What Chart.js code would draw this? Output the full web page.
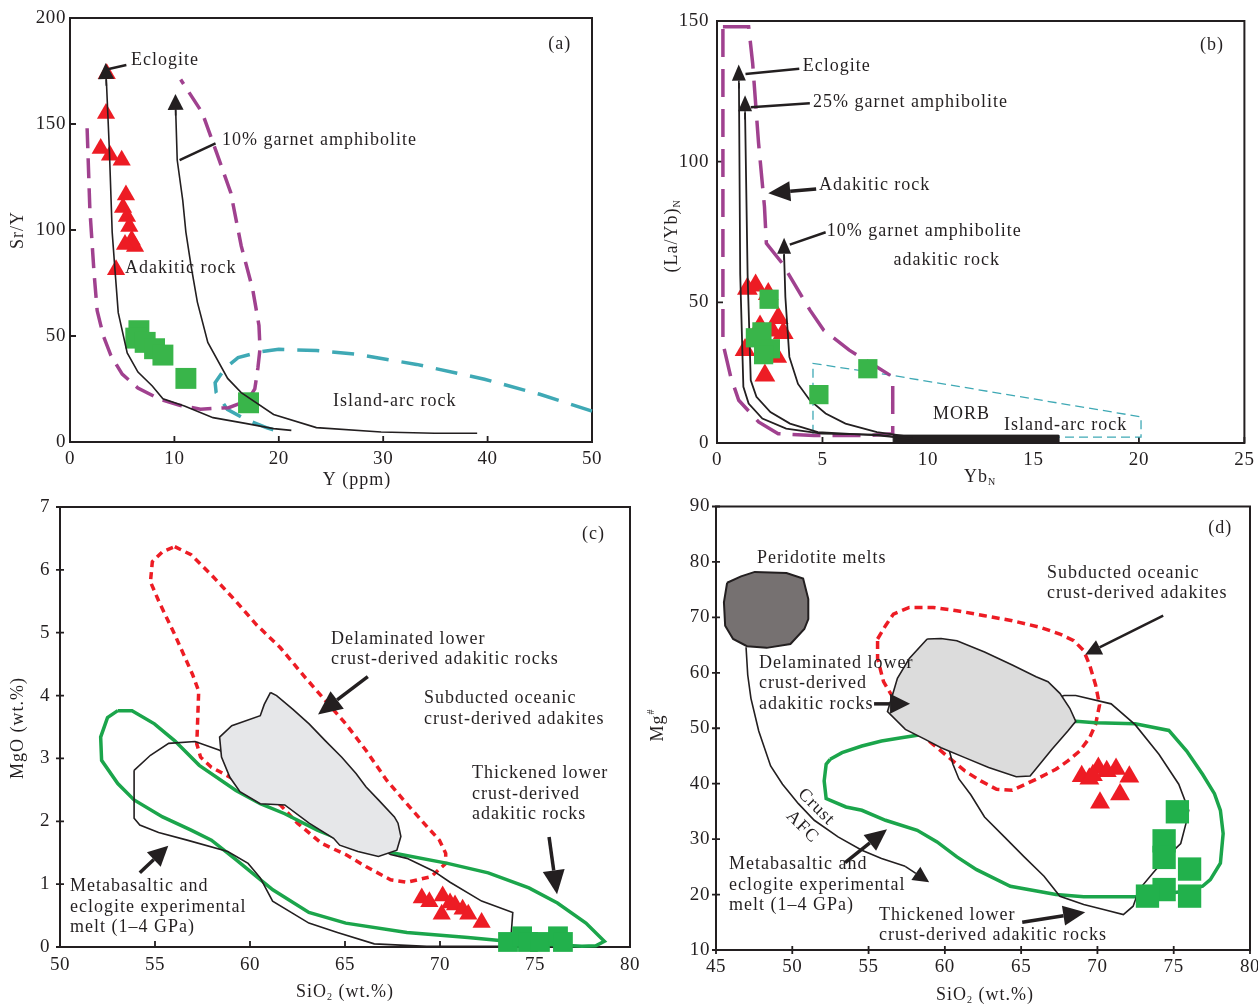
<!DOCTYPE html>
<html>
<head>
<meta charset="utf-8">
<script src="https://cdn.jsdelivr.net/npm/chart.js@4.4.1/dist/chart.umd.min.js"></script>
<style>
  body { margin: 0; background: #fff; width: 1258px; height: 1005px; position: relative; overflow: hidden; }
  canvas { position: absolute; }
</style>
</head>
<body>
<canvas id="pa" width="625" height="490" style="left:0;top:0"></canvas>
<canvas id="pb" width="618" height="490" style="left:640px;top:0"></canvas>
<canvas id="pc" width="665" height="515" style="left:0;top:490px"></canvas>
<canvas id="pd" width="643" height="515" style="left:640px;top:490px"></canvas>
<script>
// ---- (a) Sr/Y vs Y ----
const aXTicks = [0, 10, 20, 30, 40, 50];
const aYTicks = [0, 50, 100, 150, 200];
const aTri = [[3.52,173.7],[3.45,154.9],[2.94,138.4],[3.83,135.3],[4.95,132.9],[5.36,116.5],[5.08,110.6],[5.46,106.4],[5.68,101.6],[5.91,95.3],[6.23,92.2],[5.27,93.2],[4.41,81.2]];
const aSq = [[6.6,52.5],[6.3,49],[7.2,47],[8.1,44],[8.9,41],[11.1,30],[17.1,18.5]];
const aEclogite = [[3.48,171],[3.77,138],[4.04,99],[4.28,83],[4.62,61],[5.48,42],[6.51,33],[7.88,26.4],[8.9,20.4],[10.96,17],[13.7,11.5],[16.8,8.8],[19.5,6.3],[21.2,5.5]];
const aGarnet = [[10.12,157],[10.27,133],[10.8,114],[11.1,99],[11.6,83],[12.2,66],[13.2,47],[15.1,30],[16.4,23.3],[19.5,13],[23.6,6.8],[29.8,4.7],[34.9,4.1],[39,4.1]];
const aAdakitic = [[1.64,148],[1.9,110],[2.3,80],[2.6,62],[3.2,50],[3.9,41],[5.0,32],[6.5,25.5],[8.6,20.2],[10.5,17.3],[12.5,15.5],[15.2,16.2],[17.0,19.5],[17.7,25],[18.0,35],[18.2,44],[18.1,55],[17.5,72],[16.4,92.5],[15.4,117.6],[14.04,136.5],[12.67,155.3],[10.6,171]];
const aIslandArc = [[50,14.6],[45,22.5],[39.7,29.6],[33.2,36.6],[27.4,41.4],[23.6,43.2],[20,43.7],[18.15,42.5],[16.1,39.8],[14.9,35],[13.9,28],[14,23.3],[15.07,15.4],[16.8,10.7],[18.8,6.8],[20.4,4.4]];

// ---- (b) (La/Yb)N vs YbN ----
const bXTicks = [0, 5, 10, 15, 20, 25];
const bYTicks = [0, 50, 100, 150];
const bTri = [[1.44,54.8],[1.83,56],[2.43,53],[2.9,44.4],[3.14,39.1],[2.04,41.4],[1.33,33.1],[2.83,30.7],[2.27,24],[2.6,40]];
const bSq = [[2.47,51.1],[2.13,39.5],[1.82,37.4],[2.53,33.5],[2.21,31.4],[4.83,17.2],[7.15,26.4]];
const bEclogite = [[1.04,128],[1.1,60],[1.25,20],[1.5,14],[2.15,8.7],[3.28,5.1],[4.96,3.3],[7.58,3.0],[9.27,1.5]];
const b25Garnet = [[1.33,117.3],[1.45,60],[1.6,22.3],[1.87,16.4],[2.53,11],[3.46,6.9],[4.78,3.9],[7.58,2.7],[9.27,1.5]];
const b10Garnet = [[3.18,67],[3.24,52],[3.43,30.6],[3.84,21],[4.4,15.2],[5.15,10.5],[6.09,6.9],[7.58,3.9],[9.27,2.1]];
const bAdakitic = [[0.28,148],[1.5,148],[1.69,135],[1.97,106.6],[2.25,84],[2.34,71],[3.09,63.9],[4.4,47.3],[5.06,40.1],[6.27,33],[7.58,27],[8.33,23.5],[8.33,3.3],[7.2,2.7],[4.6,2.7],[2.9,3.3],[1.97,7.5],[1.03,15.2],[0.65,23.5],[0.28,35.4],[0.28,148]];
const bIslandArc = [[4.55,3.3],[4.55,28.3],[8.33,24],[20.1,9.3],[20.1,2.1],[16.2,2.1]];
const bMORB = [[8.35,0],[8.35,2.8],[16.2,2.8],[16.2,0],[8.35,0]];

// ---- (c) MgO vs SiO2 ----
const cXTicks = [50, 55, 60, 65, 70, 75, 80];
const cYTicks = [0, 1, 2, 3, 4, 5, 6, 7];
const cTri = [[69.04,0.78],[69.44,0.72],[70.14,0.81],[70.53,0.7],[70.79,0.67],[71.19,0.6],[71.49,0.52],[72.19,0.39],[70.09,0.52]];
const cSq = [[73.58,0.08],[74.32,0.17],[74.63,0.08],[75.26,0.08],[76.21,0.17],[76.47,0.08]];
const cSubducted = [[56.04,6.37],[56.9,6.24],[57.97,5.92],[59.26,5.5],[60.33,5.13],[61.6,4.76],[62.9,4.29],[63.97,3.92],[65.04,3.55],[66.1,3.13],[67.2,2.65],[68.25,2.28],[69.33,1.91],[69.97,1.7],[70.3,1.49],[70.3,1.33],[69.54,1.12],[68.26,1.03],[67.4,1.07],[66.1,1.28],[65.04,1.47],[63.76,1.65],[62.5,1.97],[61.6,2.26],[60.5,2.39],[59.26,2.65],[57.97,2.86],[57.4,3.02],[57.2,3.23],[57.3,4.07],[56.97,4.34],[56.04,4.97],[55.2,5.5],[54.76,5.81],[54.86,6.13],[55.4,6.29],[56.04,6.37]];
const cMetabasalt = [[53.04,3.76],[53.79,3.76],[54.97,3.55],[56.04,3.28],[57.33,2.89],[59.26,2.49],[60.54,2.28],[61.83,2.12],[63.54,1.86],[64.83,1.7],[67.61,1.49],[70.4,1.33],[72.54,1.18],[74.68,0.94],[76.18,0.7],[77.68,0.38],[78.65,0.09],[78.2,0.02],[77.47,0.01],[74.68,0.06],[71.47,0.15],[68.26,0.23],[65.04,0.38],[63.1,0.55],[61.2,0.91],[59.26,1.39],[57.97,1.7],[56.9,1.86],[55.4,2.07],[53.9,2.34],[53.04,2.6],[52.19,2.97],[52.14,3.34],[52.5,3.65],[53.04,3.76]];
const cThickened = [[53.9,2.81],[53.9,2.05],[54.2,1.94],[55.19,1.82],[56.69,1.7],[58.83,1.52],[59.9,1.33],[60.54,1.1],[61.19,0.73],[63.1,0.38],[64.6,0.23],[66.54,0.05],[69.3,0.01],[73.7,0.01],[73.83,0.55],[72.19,0.73],[70.53,1.03],[69.65,1.21],[68.26,1.41],[67.4,1.47],[65.5,1.8],[63.5,2.2],[61.5,2.5],[59.5,2.9],[58.4,3.13],[57.11,3.27],[55.72,3.24],[54.76,3.05],[53.9,2.81]];
const cDelaminated = [[61.08,4.05],[61.4,4.0],[62.26,3.78],[63.11,3.55],[63.97,3.28],[64.83,3.02],[65.58,2.76],[66.1,2.55],[66.76,2.34],[67.6,2.07],[67.79,1.97],[67.94,1.76],[67.73,1.54],[66.76,1.44],[65.68,1.52],[64.72,1.62],[64.4,1.73],[63.11,1.97],[61.83,2.26],[60.54,2.28],[59.47,2.47],[58.94,2.7],[58.5,3.02],[58.4,3.34],[59.04,3.52],[60.54,3.68],[60.75,3.86],[61.08,4.05]];

// ---- (d) Mg# vs SiO2 ----
const dXTicks = [45, 50, 55, 60, 65, 70, 75, 80];
const dYTicks = [10, 20, 30, 40, 50, 60, 70, 80, 90];
const dTri = [[68.97,41.36],[69.47,40.87],[70.06,42.84],[70.61,42.25],[71.22,42.66],[72.09,41.23],[71.48,38.06],[70.17,36.58],[69.7,41.5]];
const dSq = [[75.24,34.93],[74.37,29.69],[74.37,26.7],[76.04,24.6],[74.37,20.9],[73.28,19.72],[76.04,19.72]];
const dPeridotite = [[45.73,76.25],[46.64,77.4],[47.54,78.2],[49.62,78.0],[50.71,77],[51.05,73.3],[51.05,69.7],[50.79,67.9],[49.88,65.2],[48.32,64.5],[47.03,64.8],[46.12,66.1],[45.6,68.5],[45.52,72.7],[45.73,76.25]];
const dAFC = [[46.97,64.6],[47.08,59.6],[47.29,55.4],[47.8,49.5],[48.58,43.2],[49.36,39.9],[50.4,36.4],[51.44,33.4],[53.0,30.4],[54.56,28.0],[55.85,26.5],[57.4,25.1]];
const dSubducted = [[55.59,66.1],[56.11,68.5],[56.63,70.6],[57.67,71.8],[59.23,71.8],[60.79,71.2],[62.6,70.3],[64.42,69.4],[66.24,68.2],[67.54,67.0],[68.45,65.8],[69.1,64.0],[69.49,61.4],[69.88,57.8],[70.14,54.2],[69.88,50.7],[69.49,48.3],[68.84,45.9],[68.06,44.1],[67.28,42.6],[65.98,40.8],[64.42,38.8],[63.39,39.0],[62.35,40.5],[61.31,42.3],[60.27,44.7],[59.23,47.1],[58.19,49.5],[57.41,51.8],[56.63,55.4],[55.98,58.4],[55.59,62.6],[55.59,66.1]];
const dDelaminated = [[58.84,66.1],[59.75,66.2],[60.79,65.8],[62.6,63.75],[64.42,61.4],[65.98,59.3],[66.76,58.4],[67.54,56.3],[68.19,53.6],[68.58,51.25],[68.06,49.5],[67.02,46.2],[65.59,41.4],[64.68,41.25],[62.87,42.9],[61.31,44.7],[59.75,46.5],[58.71,48.0],[57.41,49.8],[56.24,53.0],[56.63,56.6],[56.89,59.0],[57.67,62.6],[58.84,66.1]];
const dThickened = [[67.8,55.9],[68.58,55.9],[70.9,54.4],[72.47,50.65],[74.03,45.3],[75.33,39.9],[75.98,35.2],[75.8,32.8],[75.46,29.2],[74.55,26.8],[73.64,23.9],[72.73,20.9],[72.34,17.9],[71.7,16.4],[70.4,17.3],[69.1,18.2],[67.54,19.7],[66.5,23.3],[65.2,26.8],[63.9,30.4],[62.6,34.0],[61.7,38.0],[60.92,40.85],[60.53,43.5],[60.27,46.2],[67.8,55.9]];
const dMetabasalt = [[52.48,44.4],[53.26,45.6],[54.56,46.8],[55.85,47.7],[57.15,48.3],[58.19,48.75],[68.58,51.25],[69.88,51.0],[72.47,50.8],[74.68,49.6],[75.85,45.9],[76.89,41.7],[77.67,38.2],[78.06,35.2],[78.24,31.0],[78.06,25.65],[77.4,22.7],[76.89,21.5],[75.5,20.5],[72.47,19.6],[69.1,19.6],[67.28,20.0],[64.29,21.5],[62.08,24.5],[60.79,26.8],[59.49,29.5],[58.19,31.6],[56.11,33.4],[54.56,35.2],[53.52,35.8],[52.22,37.3],[52.09,40.5],[52.22,43.5],[52.48,44.4]];

const FONT = '"Liberation Serif", "Times New Roman", serif';
const INK = '#231F20';
const RED = '#ED1C24';
const GREEN = '#39B54A';
const GREEN2 = '#22B14C';
const GREENL = '#1BA54B';
const PURPLE = '#A0418F';
const TEAL = '#3FA9B5';

const pts = a => a.map(p => ({ x: p[0], y: p[1] }));

function zone(arr, color, width, dash, fillColor) {
  return {
    data: pts(arr), showLine: true, pointRadius: 0, tension: 0, clip: false,
    borderColor: color, borderWidth: width, borderDash: dash || [],
    fill: fillColor ? 'shape' : false, backgroundColor: fillColor || 'transparent'
  };
}

function marks(arr, style, r, color) {
  return {
    data: pts(arr), showLine: false, pointStyle: style, pointRadius: r,
    pointBackgroundColor: color, pointBorderWidth: 0, clip: false
  };
}

function axis(ticks, p, pad, dir) {
  return {
    type: 'linear', min: ticks[0], max: ticks[ticks.length - 1],
    afterBuildTicks(s) { s.ticks = ticks.map(v => ({ value: v })); },
    ticks: { autoSkip: false, maxRotation: 0, padding: pad, color: INK, font: { family: FONT, size: 19 } },
    grid: { display: false, drawTicks: false },
    border: { display: false },
    afterFit(s) {
      if (dir === 'x') s.height = p.xSize; else s.width = p.ySize;
      s.paddingLeft = s.paddingRight = s.paddingTop = s.paddingBottom = 0;
    }
  };
}

function arrow(ctx, x1, y1, x2, y2, head, hw, lw) {
  const a = Math.atan2(y2 - y1, x2 - x1);
  const bx = x2 - head * Math.cos(a), by = y2 - head * Math.sin(a);
  ctx.beginPath();
  ctx.moveTo(x1, y1);
  ctx.lineTo(bx, by);
  ctx.lineWidth = lw;
  ctx.stroke();
  ctx.beginPath();
  ctx.moveTo(x2, y2);
  ctx.lineTo(bx + hw * Math.sin(a), by - hw * Math.cos(a));
  ctx.lineTo(bx - hw * Math.sin(a), by + hw * Math.cos(a));
  ctx.closePath();
  ctx.fill();
}

function rich(ctx, parts, cx, cy, size) {
  const fontOf = p => (p[1] ? Math.round(size * 0.55) : size) + 'px ' + FONT;
  let w = 0;
  parts.forEach(p => { ctx.font = fontOf(p); w += ctx.measureText(p[0]).width; });
  let x = cx - w / 2;
  parts.forEach(p => {
    ctx.font = fontOf(p);
    const dy = p[1] === 'sub' ? size * 0.32 : p[1] === 'sup' ? -size * 0.38 : 0;
    ctx.fillText(p[0], x, cy + dy);
    x += ctx.measureText(p[0]).width;
  });
}

// box round the plot area, tick marks on bottom and left axes ([outside, inside] lengths)
function framePlugin(tx, ty) {
  return {
    id: 'frame',
    beforeDraw(chart) { if ('letterSpacing' in chart.ctx) chart.ctx.letterSpacing = '0.6px'; },
    beforeDatasetsDraw(chart) {
      const { ctx, chartArea: a, scales: { x, y } } = chart;
      ctx.save();
      ctx.strokeStyle = INK;
      ctx.lineWidth = 2;
      ctx.strokeRect(a.left, a.top, a.right - a.left, a.bottom - a.top);
      ctx.beginPath();
      x.ticks.forEach(k => { const p = x.getPixelForValue(k.value); ctx.moveTo(p, a.bottom + tx[0]); ctx.lineTo(p, a.bottom - tx[1]); });
      y.ticks.forEach(k => { const p = y.getPixelForValue(k.value); ctx.moveTo(a.left - ty[0], p); ctx.lineTo(a.left + ty[1], p); });
      ctx.lineWidth = 1.8;
      ctx.stroke();
      ctx.restore();
    }
  };
}

// labels, pointers and axis titles
function notesPlugin(n) {
  return {
    id: 'notes',
    afterDatasetsDraw(chart) {
      const { ctx, scales: { x, y } } = chart;
      const X = v => x.getPixelForValue(v), Y = v => y.getPixelForValue(v);
      ctx.save();
      ctx.fillStyle = INK;
      ctx.strokeStyle = INK;
      (n.lines || []).forEach(l => {
        ctx.beginPath();
        ctx.moveTo(X(l[0]), Y(l[1]));
        ctx.lineTo(X(l[2]), Y(l[3]));
        ctx.lineWidth = 2.5;
        ctx.stroke();
      });
      (n.arrows || []).forEach(a => arrow(ctx, X(a[0]), Y(a[1]), X(a[2]), Y(a[3]), a[4], a[5], a[6]));
      if ('letterSpacing' in ctx) ctx.letterSpacing = '1px';
      ctx.font = '18px ' + FONT;
      ctx.textBaseline = 'middle';
      (n.texts || []).forEach(t => {
        ctx.save();
        ctx.translate(X(t[1]), Y(t[2]));
        if (t[3]) ctx.rotate(t[3] * Math.PI / 180);
        ctx.textAlign = t[4] || 'left';
        ctx.fillText(t[0], 0, 0);
        ctx.restore();
      });
      ctx.textAlign = 'left';
      rich(ctx, n.xTitle[0], n.xTitle[1], n.xTitle[2], 18);
      ctx.translate(n.yTitle[1], n.yTitle[2]);
      ctx.rotate(-Math.PI / 2);
      rich(ctx, n.yTitle[0], 0, 0, 18);
      ctx.restore();
    }
  };
}

// p.area = [left, top, right, bottom] of the plot box in canvas pixels
function build(id, p) {
  const cv = document.getElementById(id);
  const pad = { top: p.area[1], right: cv.width - p.area[2], bottom: 0, left: 0 };
  p.xSize = cv.height - p.area[3];
  p.ySize = p.area[0];
  const chart = new Chart(cv, {
    type: 'scatter',
    data: { datasets: p.datasets },
    options: {
      responsive: false, animation: false, events: [],
      layout: { padding: pad },
      plugins: { legend: { display: false }, tooltip: { enabled: false } },
      scales: {
        x: axis(p.xTicks, p, p.xPad, 'x'),
        y: axis(p.yTicks, p, p.yPad, 'y')
      }
    },
    plugins: [framePlugin(p.tx, p.ty), notesPlugin(p.notes)]
  });
  for (let i = 0; i < 4; i++) {
    const a = chart.chartArea;
    if (!a) break;
    const dl = p.area[0] - a.left, dt = p.area[1] - a.top, dr = a.right - p.area[2], db = a.bottom - p.area[3];
    if (Math.abs(dl) + Math.abs(dt) + Math.abs(dr) + Math.abs(db) < 0.5) break;
    p.ySize += dl; p.xSize += db; pad.top += dt; pad.right += dr;
    chart.options.layout.padding = Object.assign({}, pad);
    chart.update();
  }
  return chart;
}

build('pa', {
  area: [70, 18, 592, 442], xTicks: aXTicks, yTicks: aYTicks, xPad: 6, yPad: 4, tx: [0, 6], ty: [0, 6],
  datasets: [
    zone(aEclogite, INK, 1.6),
    zone(aGarnet, INK, 1.6),
    marks(aTri, 'triangle', 10.5, RED),
    marks(aSq, 'rect', 14.8, GREEN),
    zone(aAdakitic, PURPLE, 3.5, [20, 10]),
    zone(aIslandArc, TEAL, 3.5, [22, 13])
  ],
  notes: {
    texts: [['(a)', 45.8, 187.5], ['Eclogite', 5.84, 180], ['10% garnet amphibolite', 14.56, 142.5],
            ['Adakitic rock', 5.27, 81.9], ['Island-arc rock', 25.2, 19.3]],
    lines: [[3.6, 175.8, 5.4, 177.8], [10.5, 133, 13.94, 140.9]],
    arrows: [[3.48, 168, 3.42, 178.8, 16, 8, 1.6], [10.12, 154, 10.1, 164.2, 16, 8, 1.6]],
    xTitle: [[['Y (ppm)']], 357, 480],
    yTitle: [[['Sr/Y']], 18, 230]
  }
});

build('pb', {
  area: [77, 21, 605, 443], xTicks: bXTicks, yTicks: bYTicks, xPad: 6, yPad: 8, tx: [0, 6], ty: [0, 6],
  datasets: [
    marks(bSq, 'rect', 13.6, GREEN),
    zone(bEclogite, INK, 1.8),
    zone(b25Garnet, INK, 1.8),
    zone(b10Garnet, INK, 1.8),
    marks(bTri, 'triangle', 12, RED),
    zone(bMORB, INK, 1, null, INK),
    zone(bAdakitic, PURPLE, 3.5, [28, 12]),
    zone(bIslandArc, TEAL, 1.3, [9, 5])
  ],
  notes: {
    texts: [['(b)', 22.9, 141.3], ['Eclogite', 4.07, 134], ['25% garnet amphibolite', 4.55, 121],
            ['Adakitic rock', 4.83, 91.5], ['10% garnet amphibolite', 5.2, 75.4], ['adakitic rock', 8.37, 65.1],
            ['MORB', 10.24, 10.3], ['Island-arc rock', 13.6, 6.4]],
    lines: [[1.35, 131.2, 3.9, 133], [1.6, 119.3, 4.4, 120.8], [3.45, 70.5, 5.15, 74.9]],
    arrows: [[4.7, 90.3, 2.43, 88.8, 22, 10, 3.5],
             [1.04, 126, 1.03, 134.5, 16, 7, 1.6], [1.33, 115, 1.33, 123.6, 16, 7, 1.6], [3.18, 65, 3.18, 73, 16, 7, 1.6]],
    xTitle: [[['Yb'], ['N', 'sub']], 340, 477],
    yTitle: [[['(La/Yb)'], ['N', 'sub']], 32, 236]
  }
});

build('pc', {
  area: [60, 17, 630, 457], xTicks: cXTicks, yTicks: cYTicks, xPad: 7, yPad: 10, tx: [0, 6], ty: [4, 4],
  datasets: [
    marks(cSq, 'rect', 14, GREEN2),
    marks(cTri, 'triangle', 10.5, RED),
    zone(cDelaminated, INK, 1.6, null, '#E6E7E9'),
    zone(cThickened, INK, 1.6),
    zone(cMetabasalt, GREENL, 3.5),
    zone(cSubducted, RED, 3.5, [7, 5])
  ],
  notes: {
    texts: [['(c)', 77.47, 6.56], ['Delaminated lower', 64.26, 4.89], ['crust-derived adakitic rocks', 64.26, 4.57],
            ['Subducted oceanic', 69.16, 3.95], ['crust-derived adakites', 69.16, 3.62],
            ['Thickened lower', 71.68, 2.76], ['crust-derived', 71.68, 2.43], ['adakitic rocks', 71.68, 2.11],
            ['Metabasaltic and', 50.53, 0.97], ['eclogite experimental', 50.53, 0.63], ['melt (1\u20134 GPa)', 50.53, 0.32]],
    arrows: [[66.2, 4.3, 63.58, 3.7, 24, 11, 3.5], [75.74, 1.75, 76.16, 0.84, 24, 11, 3.5], [54.2, 1.18, 55.7, 1.61, 20, 10, 3.5]],
    xTitle: [[['SiO'], ['2', 'sub'], [' (wt.%)']], 345, 502],
    yTitle: [[['MgO (wt.%)']], 18, 238]
  }
});

build('pd', {
  area: [76, 13, 610, 460], xTicks: dXTicks, yTicks: dYTicks, xPad: 6, yPad: 6, tx: [4, 4], ty: [4, 4],
  datasets: [
    marks(dSq, 'rect', 16.5, GREEN2),
    marks(dTri, 'triangle', 11.5, RED),
    zone(dDelaminated, INK, 1.6, null, '#DCDCDC'),
    zone(dThickened, INK, 1.6),
    zone(dMetabasalt, GREENL, 3.5),
    zone(dSubducted, RED, 3.5, [8, 5]),
    zone(dPeridotite, INK, 2, null, '#767171'),
    zone(dAFC, INK, 1.6)
  ],
  notes: {
    texts: [['(d)', 77.26, 86.06], ['Peridotite melts', 47.69, 80.7], ['Subducted oceanic', 66.7, 78.0],
            ['crust-derived adakites', 66.7, 74.4], ['Delaminated lower', 47.82, 61.7], ['crust-derived', 47.82, 58.1],
            ['adakitic rocks', 47.82, 54.4], ['Metabasaltic and', 45.85, 25.4], ['eclogite experimental', 45.85, 21.6],
            ['melt (1\u20134 GPa)', 45.85, 18.05], ['Thickened lower', 55.69, 16.3], ['crust-derived adakitic rocks', 55.69, 12.7],
            ['Crust', 51.57, 35.8, 45, 'center'], ['AFC', 50.66, 32.2, 45, 'center']],
    arrows: [[74.31, 70.3, 69.2, 63.3, 16, 8, 2.5], [55.36, 54.4, 57.72, 54.4, 20, 10, 3.5],
             [53.46, 25.75, 56.21, 31.8, 22, 10, 3.5], [65.07, 15.0, 69.2, 16.8, 22, 10, 3.5],
             [57.4, 25.1, 58.97, 22.2, 16, 8, 1.6]],
    xTitle: [[['SiO'], ['2', 'sub'], [' (wt.%)']], 345, 505],
    yTitle: [[['Mg'], ['#', 'sup']], 18, 235]
  }
});
</script>
</body>
</html>
